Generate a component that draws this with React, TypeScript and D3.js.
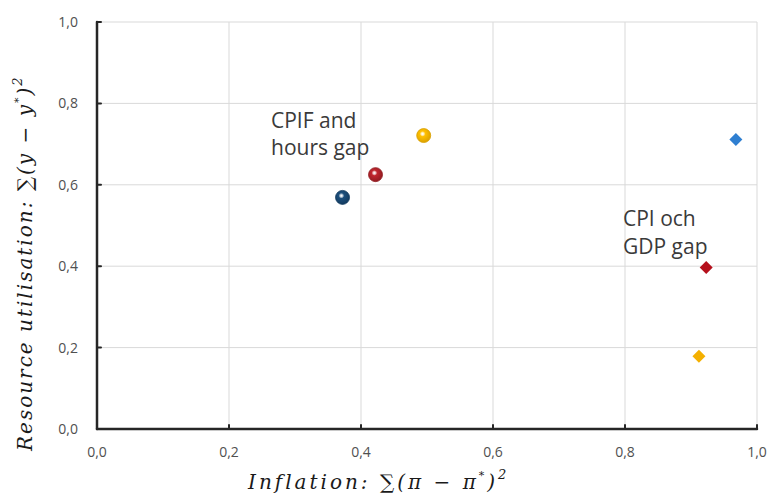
import { scaleLinear } from "d3";

const X_TICKS = [0, 0.2, 0.4, 0.6, 0.8, 1.0];
const Y_TICKS = [0, 0.2, 0.4, 0.6, 0.8, 1.0];

// CPIF and hours gap (circles)
const CPIF_X = [0.372, 0.422, 0.495];
const CPIF_Y = [0.569, 0.625, 0.721];

// CPI och GDP gap (diamonds)
const CPI_X = [0.968, 0.923, 0.912];
const CPI_Y = [0.711, 0.397, 0.179];

const POINT_COLORS = ["#1d4f7c", "#c0262e", "#ffc000"];
const POINT_EDGES = ["#123a5e", "#8f1a20", "#d9a000"];
const DIAMOND_COLORS = ["#2f7fd1", "#b5101c", "#f4b000"];

const WIDTH = 773;
const HEIGHT = 504;
const PLOT = { left: 97, right: 757, top: 22, bottom: 429 };

const fmt = (v: number) => v.toFixed(1).replace(".", ",");

export default function App() {
  const x = scaleLinear().domain([0, 1]).range([PLOT.left, PLOT.right]);
  const y = scaleLinear().domain([0, 1]).range([PLOT.bottom, PLOT.top]);

  const circles = CPIF_X.map((v, i) => ({ x: v, y: CPIF_Y[i], i }));
  const diamonds = CPI_X.map((v, i) => ({ x: v, y: CPI_Y[i], color: DIAMOND_COLORS[i] }));

  const mathFont = "'DejaVu Serif', serif";
  const labelFont = "'Open Sans', sans-serif";

  return (
    <svg
      width={WIDTH}
      height={HEIGHT}
      style={{ position: "absolute", left: 0, top: 0, background: "#fff" }}
    >
      <defs>
        {POINT_COLORS.map((c, i) => (
          <radialGradient key={i} id={`ball${i}`} cx="42%" cy="38%" r="65%">
            <stop offset="0%" stopColor="#ffffff" stopOpacity={0.25} />
            <stop offset="30%" stopColor={c} />
            <stop offset="100%" stopColor={POINT_EDGES[i]} />
          </radialGradient>
        ))}
      </defs>

      {/* GRID */}
      {X_TICKS.filter(t => t > 0).map(t => (
        <line key={`gx${t}`} x1={x(t)} x2={x(t)} y1={y(0)} y2={y(1)} stroke="#d9d9d9" strokeWidth={1} />
      ))}
      {Y_TICKS.filter(t => t > 0).map(t => (
        <line key={`gy${t}`} x1={x(0)} x2={x(1)} y1={y(t)} y2={y(t)} stroke="#d9d9d9" strokeWidth={1} />
      ))}

      {/* AXES */}
      <line x1={x(0)} x2={x(0)} y1={y(0)} y2={y(1)} stroke="#262626" strokeWidth={2.5} strokeLinecap="round" />
      <line x1={x(0)} x2={x(1)} y1={y(0)} y2={y(0)} stroke="#262626" strokeWidth={2.5} strokeLinecap="round" />
      {Y_TICKS.map(t => (
        <g key={`ty${t}`}>
          <line x1={x(0)} x2={x(0) + 4} y1={y(t)} y2={y(t)} stroke="#262626" strokeWidth={2} strokeLinecap="round" />
          <text
            x={78}
            y={y(t)}
            dy="0.35em"
            textAnchor="end"
            fontFamily={labelFont}
            fontSize={14}
            fill="#505050"
          >
            {fmt(t)}
          </text>
        </g>
      ))}
      {X_TICKS.map(t => (
        <g key={`tx${t}`}>
          <line x1={x(t)} x2={x(t)} y1={y(0)} y2={y(0) - 4} stroke="#262626" strokeWidth={2} strokeLinecap="round" />
          <text
            x={x(t)}
            y={457}
            textAnchor="middle"
            fontFamily={labelFont}
            fontSize={14}
            fill="#505050"
          >
            {fmt(t)}
          </text>
        </g>
      ))}

      {/* AXIS TITLES */}
      <text
        x={248}
        y={489}
        fontFamily={mathFont}
        fontStyle="italic"
        fontSize={20}
        letterSpacing={3.0}
        fill="#1a1a1a"
      >
        Inflation: ∑(π − π
        <tspan dy={-10} fontSize={11}>*</tspan>
        <tspan dy={10}>)</tspan>
        <tspan dy={-10} fontSize={13}>2</tspan>
      </text>
      <text
        transform="translate(32,451) rotate(-90)"
        fontFamily={mathFont}
        fontStyle="italic"
        fontSize={20}
        letterSpacing={2.0}
        fill="#1a1a1a"
      >
        Resource utilisation: ∑(y − y
        <tspan dy={-10} fontSize={11}>*</tspan>
        <tspan dy={10}>)</tspan>
        <tspan dy={-10} fontSize={13}>2</tspan>
      </text>

      {/* ANNOTATIONS */}
      <text x={271} y={128} fontFamily={labelFont} fontSize={21} fill="#3a3a3a">CPIF and</text>
      <text x={271} y={155} fontFamily={labelFont} fontSize={21} fill="#3a3a3a">hours gap</text>
      <text x={623} y={226} fontFamily={labelFont} fontSize={21} fill="#3a3a3a">CPI och</text>
      <text x={623} y={254} fontFamily={labelFont} fontSize={21} fill="#3a3a3a">GDP gap</text>

      {/* CIRCLES */}
      {circles.map(p => (
        <circle
          key={`c${p.i}`}
          cx={x(p.x)}
          cy={y(p.y)}
          r={7}
          fill={`url(#ball${p.i})`}
          stroke={POINT_EDGES[p.i]}
          strokeWidth={0.8}
        />
      ))}

      {/* DIAMONDS */}
      {diamonds.map((p, i) => {
        const cx = x(p.x);
        const cy = y(p.y);
        const s = 6.5;
        return (
          <path
            key={`d${i}`}
            d={`M${cx},${cy - s}L${cx + s},${cy}L${cx},${cy + s}L${cx - s},${cy}Z`}
            fill={p.color}
          />
        );
      })}
    </svg>
  );
}
